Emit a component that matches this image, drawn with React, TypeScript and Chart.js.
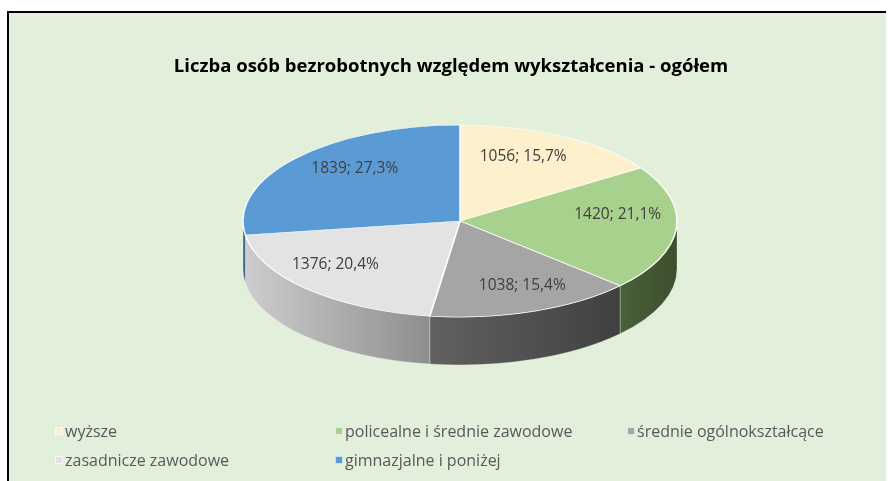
import React, { useEffect, useRef } from "react";
import { Chart, registerables } from "chart.js";

Chart.register(...registerables);

// ---- data ----
const title = "Liczba osób bezrobotnych względem wykształcenia - ogółem";
const categories = [
  "wyższe",
  "policealne i średnie zawodowe",
  "średnie ogólnokształcące",
  "zasadnicze zawodowe",
  "gimnazjalne i poniżej",
];
const values = [1056, 1420, 1038, 1376, 1839];
const topColors = ["#FCF0CD", "#A9D18E", "#A5A5A5", "#E3E3E3", "#5B9BD5"];
const sideLeftColors = ["#CFC5A6", "#4A6139", "#616161", "#CDCDCD", "#3A6C9C"];
const sideRightColors = ["#BFB597", "#3B4E2E", "#404040", "#8E8E8E", "#2E5A86"];

// ---- layout of the pseudo-3D pie (screen pixels) ----
const PIE_CX = 460;
const PIE_CY = 221;
const PIE_RX = 217;
const PIE_RY = 96;
const PIE_DEPTH = 48;
const LABEL_FRACTION = 0.73;
const LABEL_PERSPECTIVE = (10 * Math.PI) / 180;

const total = values.reduce((a, b) => a + b, 0);
const pctText = (v: number) => ((v / total) * 100).toFixed(1).replace(".", ",") + "%";

const pie3dPlugin = {
  id: "pie3d",
  beforeDatasetsDraw(chart: any) {
    const ctx: CanvasRenderingContext2D = chart.ctx;
    const meta = chart.getDatasetMeta(0);
    const arcs = meta.data as any[];
    ctx.save();
    if (!arcs.length) return;
    // side walls (front half only: angles 0..PI in canvas terms)
    arcs.forEach((arc: any, i: number) => {
      const s = Math.max(arc.startAngle, 0);
      const e = Math.min(arc.endAngle, Math.PI);
      if (e <= s) return;
      const xRight = PIE_CX + PIE_RX * Math.cos(s);
      const xLeft = PIE_CX + PIE_RX * Math.cos(e);
      const g = ctx.createLinearGradient(xLeft, 0, xRight + 0.01, 0);
      g.addColorStop(0, sideLeftColors[i]);
      g.addColorStop(1, sideRightColors[i]);
      ctx.beginPath();
      ctx.ellipse(PIE_CX, PIE_CY, PIE_RX, PIE_RY, 0, s, e, false);
      ctx.ellipse(PIE_CX, PIE_CY + PIE_DEPTH, PIE_RX, PIE_RY, 0, e, s, true);
      ctx.closePath();
      ctx.fillStyle = g;
      ctx.fill();
      ctx.strokeStyle = "rgba(255,255,255,0.35)";
      ctx.lineWidth = 0.8;
      ctx.stroke();
    });
    // transform the flat pie into the top ellipse
    const a0 = arcs[0];
    const R = a0.outerRadius;
    ctx.translate(PIE_CX, PIE_CY);
    ctx.scale(PIE_RX / R, PIE_RY / R);
    ctx.translate(-a0.x, -a0.y);
  },
  afterDatasetsDraw(chart: any) {
    const ctx: CanvasRenderingContext2D = chart.ctx;
    ctx.restore();
    const meta = chart.getDatasetMeta(0);
    const arcs = meta.data as any[];
    ctx.save();
    ctx.font = "15.5px 'Open Sans'";
    ctx.fillStyle = "#404040";
    ctx.textAlign = "center";
    ctx.textBaseline = "middle";
    arcs.forEach((arc: any, i: number) => {
      const mid = (arc.startAngle + arc.endAngle) / 2;
      // angle measured clockwise from 12 o'clock, with a slight perspective correction
      const fromTop = mid + Math.PI / 2;
      const a = fromTop - LABEL_PERSPECTIVE * Math.sin(fromTop) - Math.PI / 2;
      const x = PIE_CX + LABEL_FRACTION * PIE_RX * Math.cos(a);
      const y = PIE_CY + LABEL_FRACTION * PIE_RY * Math.sin(a);
      ctx.fillText(`${values[i]}; ${pctText(values[i])}`, x, y);
    });
    ctx.restore();
  },
};

const legendCols = [55, 335, 627];
const legendRows = [431, 460];

export default function App() {
  const canvasRef = useRef<HTMLCanvasElement | null>(null);

  useEffect(() => {
    if (!canvasRef.current) return;
    const chart = new Chart(canvasRef.current, {
      type: "pie",
      data: {
        labels: categories,
        datasets: [
          {
            data: values,
            backgroundColor: topColors,
            borderColor: "rgba(255,255,255,0.9)",
            borderWidth: 1.5,
            clip: false as any,
          },
        ],
      },
      options: {
        responsive: false,
        animation: false,
        devicePixelRatio: 1,
        rotation: 0,
        layout: { padding: { left: 14, right: 0, top: 0, bottom: 0 } },
        plugins: {
          legend: { display: false },
          tooltip: { enabled: false },
          title: {
            display: true,
            text: title,
            color: "#000000",
            font: { family: "'Open Sans'", size: 18.5, weight: "bold" },
            padding: { top: 56, bottom: 10 },
          },
        },
      },
      plugins: [pie3dPlugin],
    });
    return () => chart.destroy();
  }, []);

  return (
    <div style={{ position: "absolute", left: 0, top: 0, width: 888, height: 481, background: "#ffffff", overflow: "hidden" }}>
      <div
        style={{
          position: "absolute",
          left: 7,
          top: 11,
          width: 877,
          height: 470,
          background: "#E2EFDA",
          borderLeft: "2px solid #000",
          borderTop: "2px solid #000",
        }}
      />
      <canvas ref={canvasRef} width={888} height={481} style={{ position: "absolute", left: 0, top: 0 }} />
      {categories.map((c, i) => {
        const col = legendCols[i % 3];
        const row = legendRows[Math.floor(i / 3)];
        return (
          <div key={c} style={{ position: "absolute", left: col, top: row - 10, height: 20, display: "flex", alignItems: "center" }}>
            <span
              style={{
                display: "inline-block",
                width: 6,
                height: 6,
                background: topColors[i],
                border: "1px solid rgba(255,255,255,0.7)",
                marginRight: 2,
              }}
            />
            <span style={{ fontFamily: "'Open Sans'", fontSize: 16, color: "#595959", whiteSpace: "nowrap", lineHeight: "20px" }}>{c}</span>
          </div>
        );
      })}
    </div>
  );
}
